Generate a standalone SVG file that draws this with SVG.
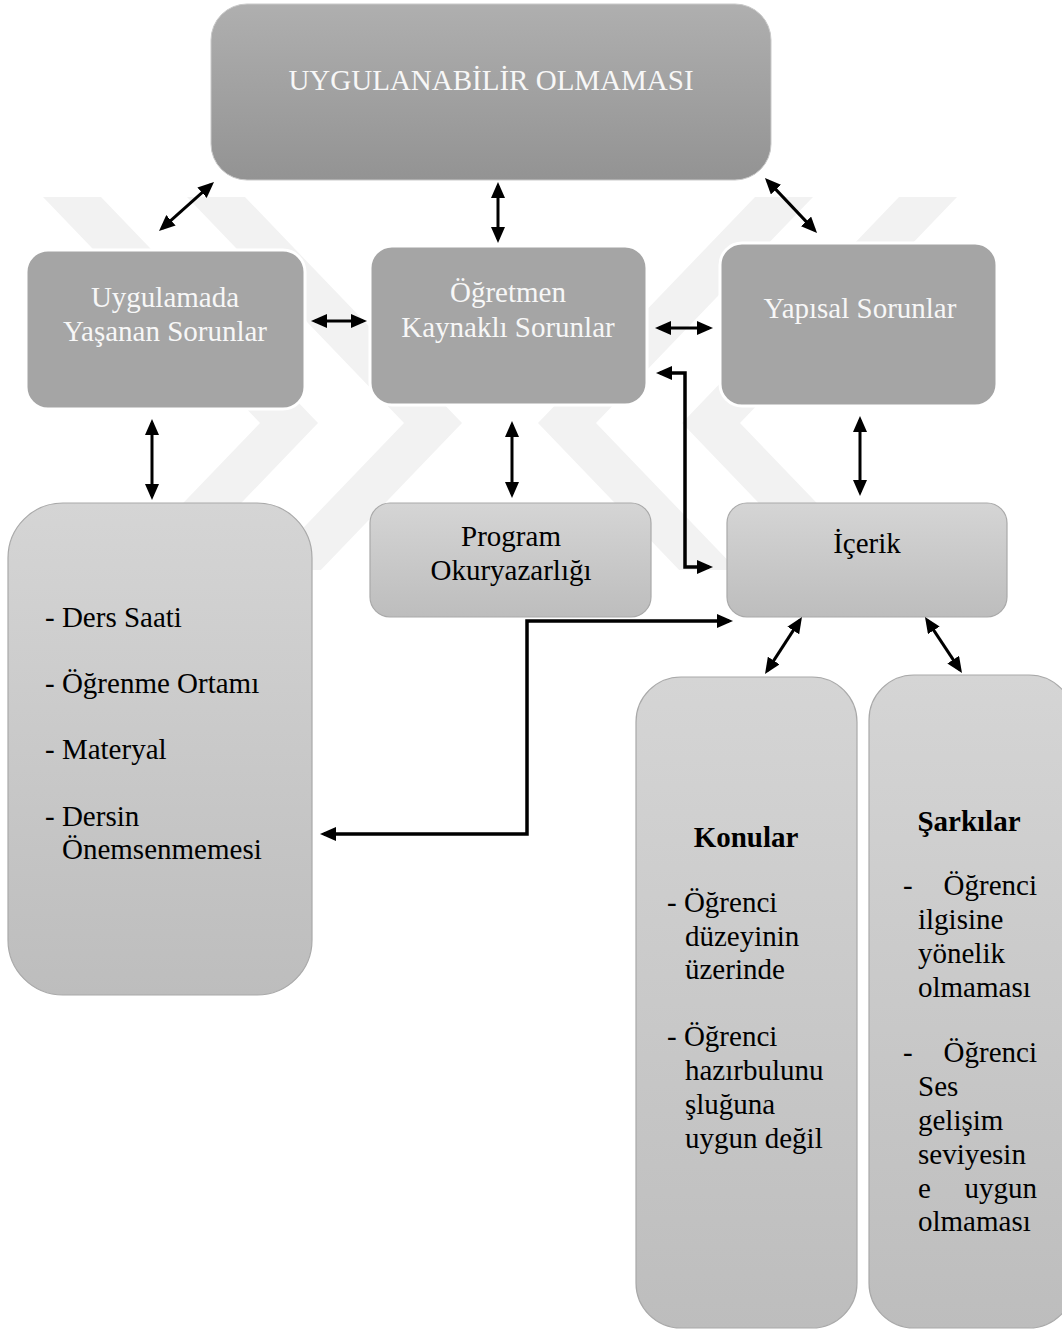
<svg xmlns="http://www.w3.org/2000/svg" width="1062" height="1329" viewBox="0 0 1062 1329">
<defs>
  <linearGradient id="gTop" x1="0" y1="0" x2="0" y2="1">
    <stop offset="0" stop-color="#afafaf"/>
    <stop offset="1" stop-color="#939393"/>
  </linearGradient>
  <linearGradient id="gLight" x1="0" y1="0" x2="0" y2="1">
    <stop offset="0" stop-color="#d5d5d5"/>
    <stop offset="1" stop-color="#bdbdbd"/>
  </linearGradient>
  <clipPath id="wmClip">
    <rect x="0" y="197" width="1062" height="373"/>
  </clipPath>
  <marker id="ah" markerUnits="userSpaceOnUse" markerWidth="16" markerHeight="14" viewBox="0 0 16 14" refX="12" refY="7" orient="auto-start-reverse">
    <path d="M0,0 L16,7 L0,14 z" fill="#000"/>
  </marker>
</defs>
<style>
  .wm{fill:#f2f2f2}
  .top{fill:url(#gTop);stroke:#c9c9c9;stroke-width:1}
  .dark{fill:#a5a5a5;stroke:#ffffff;stroke-width:3}
  .light{fill:url(#gLight);stroke:#a9a9a9;stroke-width:1.2}
  .tw{font-family:"Liberation Serif","Times New Roman",serif;font-size:29px;fill:#f7f7f7}
  .tb{font-family:"Liberation Serif","Times New Roman",serif;font-size:29px;fill:#000}
  .bold{font-weight:bold}
  .mid{text-anchor:middle}
  .end{text-anchor:end}
  .conn{fill:none;stroke:#000;stroke-width:3;marker-start:url(#ah);marker-end:url(#ah)}
  .elbow{stroke-width:3.5}
</style>
<rect width="1062" height="1329" fill="#ffffff"/>

<g id="watermark" clip-path="url(#wmClip)">
  <polygon class="wm" points="43,197 101,197 318,423 101,649 43,649 260,423"/>
  <polygon class="wm" points="187,197 245,197 462,423 245,649 187,649 404,423"/>
  <polygon class="wm" points="957,197 899,197 682,423 899,649 957,649 740,423"/>
  <polygon class="wm" points="813,197 755,197 538,423 755,649 813,649 596,423"/>
</g>

<g id="node-top">
  <rect class="top" x="211" y="4" width="560" height="176" rx="36"/>
  <text class="tw mid" x="491" y="90">UYGULANABİLİR OLMAMASI</text>
</g>
<g id="node-uygulamada">
  <rect class="dark" x="26" y="250" width="279" height="159" rx="22"/>
  <text class="tw mid" x="165" y="307">Uygulamada</text>
  <text class="tw mid" x="165" y="341">Yaşanan Sorunlar</text>
</g>
<g id="node-ogretmen">
  <rect class="dark" x="370" y="246" width="277" height="159" rx="22"/>
  <text class="tw mid" x="508" y="302">Öğretmen</text>
  <text class="tw mid" x="508" y="337">Kaynaklı Sorunlar</text>
</g>
<g id="node-yapisal">
  <rect class="dark" x="720" y="243" width="277" height="163" rx="22"/>
  <text class="tw mid" x="860" y="318">Yapısal Sorunlar</text>
</g>
<g id="node-liste">
  <rect class="light" x="8" y="503" width="304" height="492" rx="55"/>
  <text class="tb" x="45" y="627">- Ders Saati</text>
  <text class="tb" x="45" y="693">- Öğrenme Ortamı</text>
  <text class="tb" x="45" y="759">- Materyal</text>
  <text class="tb" x="45" y="826">- Dersin</text>
  <text class="tb" x="62" y="859">Önemsenmemesi</text>
</g>
<g id="node-program">
  <rect class="light" x="370" y="503" width="281" height="114" rx="20"/>
  <text class="tb mid" x="511" y="546">Program</text>
  <text class="tb mid" x="511" y="580">Okuryazarlığı</text>
</g>
<g id="node-icerik">
  <rect class="light" x="727" y="503" width="280" height="114" rx="20"/>
  <text class="tb mid" x="867" y="553">İçerik</text>
</g>
<g id="node-konular">
  <rect class="light" x="636" y="677" width="221" height="651" rx="45"/>
  <text class="tb bold mid" x="746" y="847">Konular</text>
  <text class="tb" x="667" y="912">- Öğrenci</text>
  <text class="tb" x="685" y="946">düzeyinin</text>
  <text class="tb" x="685" y="979">üzerinde</text>
  <text class="tb" x="667" y="1046">- Öğrenci</text>
  <text class="tb" x="685" y="1080">hazırbulunu</text>
  <text class="tb" x="685" y="1114">şluğuna</text>
  <text class="tb" x="685" y="1148">uygun değil</text>
</g>
<g id="node-sarkilar">
  <rect class="light" x="869" y="675" width="205" height="653" rx="45"/>
  <text class="tb bold mid" x="969" y="831">Şarkılar</text>
  <text class="tb" x="903" y="895">-</text>
  <text class="tb end" x="1037" y="895">Öğrenci</text>
  <text class="tb" x="918" y="929">ilgisine</text>
  <text class="tb" x="918" y="963">yönelik</text>
  <text class="tb" x="918" y="997">olmaması</text>
  <text class="tb" x="903" y="1062">-</text>
  <text class="tb end" x="1037" y="1062">Öğrenci</text>
  <text class="tb" x="918" y="1096">Ses</text>
  <text class="tb" x="918" y="1130">gelişim</text>
  <text class="tb" x="918" y="1164">seviyesin</text>
  <text class="tb" x="918" y="1198">e</text>
  <text class="tb end" x="1037" y="1198">uygun</text>
  <text class="tb" x="918" y="1231">olmaması</text>
</g>

<g id="connectors">
  <line class="conn" x1="162" y1="228.3" x2="211" y2="184.7"/>
  <line class="conn" x1="498" y1="186" x2="498" y2="239"/>
  <line class="conn" x1="767.7" y1="180.9" x2="814.3" y2="230.1"/>
  <line class="conn" x1="315" y1="321" x2="363" y2="321"/>
  <line class="conn" x1="659" y1="328" x2="709" y2="328"/>
  <path class="conn elbow" d="M660,373 H685 V567 H709"/>
  <line class="conn" x1="152" y1="423" x2="152" y2="496"/>
  <line class="conn" x1="512" y1="425" x2="512" y2="494"/>
  <line class="conn" x1="860" y1="420" x2="860" y2="492"/>
  <path class="conn elbow" d="M324,834 H527 V621 H729"/>
  <line class="conn" x1="799.8" y1="620.4" x2="767.2" y2="670.6"/>
  <line class="conn" x1="927.2" y1="620.3" x2="959.8" y2="669.7"/>
</g>
</svg>
